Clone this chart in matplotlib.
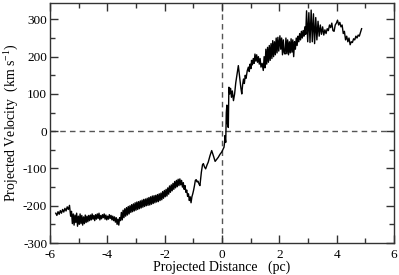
import matplotlib
matplotlib.use("Agg")
import matplotlib.pyplot as plt
from matplotlib.ticker import MultipleLocator

plt.rcParams['font.family'] = ['Liberation Serif', 'DejaVu Serif']
plt.rcParams['mathtext.fontset'] = 'custom'
plt.rcParams['mathtext.rm'] = 'Liberation Serif'
plt.rcParams['mathtext.default'] = 'regular'
plt.rcParams['axes.unicode_minus'] = False

# Projected distance (pc) and projected velocity (km/s)
distance = [
    -5.80, -5.76, -5.72, -5.68, -5.64, -5.60, -5.56, -5.52, -5.48, -5.44, -5.40, -5.36, -5.32,
    -5.28, -5.25, -5.22, -5.19, -5.16, -5.13, -5.10, -5.07, -5.04, -5.01, -4.98, -4.95, -4.92,
    -4.89, -4.86, -4.83, -4.80, -4.77, -4.74, -4.71, -4.68, -4.65, -4.62, -4.59, -4.56, -4.53,
    -4.50, -4.47, -4.44, -4.41, -4.38, -4.35, -4.32, -4.29, -4.26, -4.23, -4.20, -4.17, -4.14,
    -4.11, -4.08, -4.05, -4.02, -3.99, -3.96, -3.93, -3.90, -3.87, -3.84, -3.81, -3.78, -3.75,
    -3.72, -3.69, -3.66, -3.63, -3.60, -3.57, -3.54, -3.51, -3.48, -3.45, -3.42, -3.39, -3.36,
    -3.33, -3.30, -3.27, -3.24, -3.21, -3.18, -3.15, -3.12, -3.09, -3.06, -3.03, -3.00, -2.97,
    -2.94, -2.91, -2.88, -2.85, -2.82, -2.79, -2.76, -2.73, -2.70, -2.67, -2.64, -2.61, -2.58,
    -2.55, -2.52, -2.49, -2.46, -2.43, -2.40, -2.37, -2.34, -2.31, -2.28, -2.25, -2.22, -2.19,
    -2.16, -2.13, -2.10, -2.07, -2.04, -2.01, -1.98, -1.95, -1.92, -1.89, -1.86, -1.83, -1.80,
    -1.77, -1.74, -1.71, -1.68, -1.65, -1.62, -1.59, -1.56, -1.53, -1.50, -1.47, -1.44, -1.41,
    -1.38, -1.35, -1.32, -1.29, -1.26, -1.23, -1.20, -1.17, -1.14, -1.11, -1.08, -1.05, -1.02,
    -0.99, -0.96, -0.93, -0.90, -0.87, -0.84, -0.80, -0.77, -0.72, -0.68, -0.65, -0.61, -0.57,
    -0.52, -0.48, -0.42, -0.36, -0.30, -0.24, -0.18, -0.13, -0.07, -0.01, 0.04, 0.07, 0.09,
    0.10, 0.13, 0.15, 0.17, 0.19, 0.22, 0.24, 0.27, 0.30, 0.33, 0.36, 0.40, 0.44, 0.48, 0.51,
    0.54, 0.57, 0.60, 0.63, 0.66, 0.69, 0.72, 0.75, 0.78, 0.81, 0.84, 0.88, 0.92, 0.95, 0.98,
    1.01, 1.03, 1.06, 1.09, 1.12, 1.15, 1.18, 1.21, 1.24, 1.27, 1.30, 1.33, 1.36, 1.40, 1.44,
    1.47, 1.50, 1.53, 1.56, 1.59, 1.62, 1.65, 1.68, 1.71, 1.74, 1.77, 1.80, 1.83, 1.86, 1.89,
    1.92, 1.95, 1.98, 2.02, 2.05, 2.08, 2.11, 2.14, 2.17, 2.20, 2.23, 2.26, 2.29, 2.32, 2.35,
    2.38, 2.41, 2.44, 2.47, 2.50, 2.53, 2.56, 2.59, 2.62, 2.65, 2.68, 2.71, 2.74, 2.77, 2.80,
    2.83, 2.86, 2.89, 2.92, 2.95, 2.99, 3.03, 3.07, 3.11, 3.15, 3.19, 3.23, 3.27, 3.31, 3.35,
    3.39, 3.43, 3.47, 3.51, 3.55, 3.59, 3.63, 3.67, 3.71, 3.75, 3.79, 3.83, 3.87, 3.91, 3.95,
    3.99, 4.03, 4.07, 4.11, 4.15, 4.19, 4.23, 4.27, 4.31, 4.35, 4.39, 4.43, 4.47, 4.51, 4.55,
    4.59, 4.63, 4.67, 4.71, 4.75, 4.79, 4.83, 4.87,
]
velocity = [
    -220, -226, -216, -223, -213, -220, -210, -217, -207, -214, -203, -210, -199,
    -228, -215, -248, -222, -252, -225, -245, -220, -255, -228, -250, -222, -248,
    -226, -252, -230, -248, -225, -245, -228, -243, -226, -240, -225, -238, -222,
    -236, -226, -240, -224, -236, -222, -234, -220, -238, -226, -235, -224, -232,
    -222, -236, -225, -238, -228, -236, -224, -234, -226, -238, -228, -240, -230,
    -244, -232, -250, -236, -252, -232, -240, -218, -238, -212, -232, -208, -228,
    -205, -225, -202, -222, -200, -218, -197, -216, -195, -214, -192, -212, -190,
    -210, -189, -208, -187, -206, -185, -204, -183, -202, -182, -200, -180, -199,
    -178, -198, -176, -196, -174, -194, -173, -192, -172, -190, -170, -189, -168,
    -186, -166, -184, -162, -180, -159, -176, -156, -174, -152, -169, -147, -164,
    -144, -160, -140, -156, -135, -152, -132, -149, -129, -146, -128, -144, -132,
    -150, -138, -156, -146, -164, -158, -175, -168, -186, -176, -192, -176, -168,
    -158, -146, -132, -130, -136, -134, -142, -146, -110, -90, -87, -96, -101,
    -90, -83, -66, -52, -66, -81, -75, -70, -62, -56, -48, -43, -30,
    -12, -30, 50, 70, 20, 10, 118, 100, 115, 91, 108, 82, 100, 130, 145,
    160, 176, 155, 135, 115, 100, 125, 140, 128, 150, 142, 162, 172, 160, 180,
    168, 190, 178, 195, 182, 207, 188, 205, 185, 200, 180, 195, 172, 182, 163,
    200, 170, 220, 180, 225, 185, 230, 190, 235, 195, 243, 200, 240, 205, 250,
    210, 252, 215, 256, 220, 250, 205, 245, 210, 207, 250, 208, 245, 205, 240,
    210, 248, 212, 245, 200, 240, 220, 250, 230, 255, 240, 262, 245, 268, 250,
    270, 255, 280, 260, 323, 240, 318, 238, 325, 240, 315, 235, 305, 245, 295,
    255, 285, 260, 280, 258, 272, 262, 275, 270, 285, 278, 290, 270, 268, 285,
    290, 298, 285, 292, 280, 285, 262, 268, 245, 255, 240, 250, 232, 240, 238,
    248, 245, 255, 250, 258, 255, 265, 275,
]

x_ticks = [-6, -4, -2, 0, 2, 4, 6]
y_ticks = [-300, -200, -100, 0, 100, 200, 300]

fig = plt.figure(figsize=(3.99, 2.75), dpi=100)
ax = fig.add_axes([50 / 399, 1 - 243 / 275, 344 / 399, 240 / 275])

ax.axhline(0, color='#555555', lw=1.0, ls=(0, (4, 3)), zorder=1)
ax.axvline(0, color='#555555', lw=1.0, ls=(0, (4, 3)), zorder=1)
ax.plot(distance, velocity, color='black', lw=1.0, zorder=2)

ax.set_xlim(-6, 6)
ax.set_ylim(-300, 344)
ax.set_xticks(x_ticks)
ax.set_yticks(y_ticks)
ax.xaxis.set_minor_locator(MultipleLocator(1))
ax.yaxis.set_minor_locator(MultipleLocator(50))
ax.tick_params(which='both', direction='in', top=True, right=True,
               labelsize=9.5, color='#333333')
ax.tick_params(axis='x', pad=4)
ax.tick_params(axis='y', pad=2)
ax.tick_params(which='major', length=6, width=1)
ax.tick_params(which='minor', length=3.5, width=1)
for s in ax.spines.values():
    s.set_linewidth(1.0)
    s.set_color('#333333')

ax.set_xlabel('Projected Distance   (pc)', fontsize=10, labelpad=0)
ax.set_ylabel('Projected Velocity  (km s$^{-1}$)', fontsize=10, labelpad=1)

fig.savefig('out.png', dpi=100)
